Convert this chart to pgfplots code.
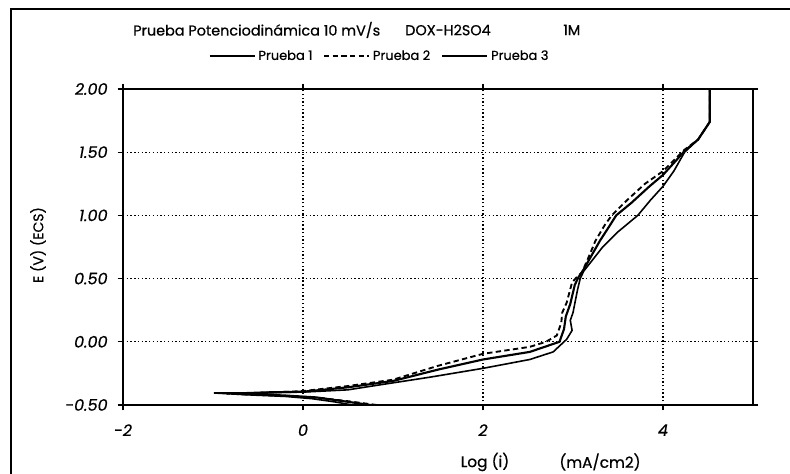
\documentclass[border=0pt]{standalone}
\usepackage{fontspec}
\setmainfont{Poppins}[FakeBold=0.6]
\usepackage{pgfplots}
\pgfplotsset{compat=1.18}

\begin{document}
\begin{tikzpicture}[x=0.75pt,y=0.75pt]
\useasboundingbox (-123,-69) rectangle (667,405);
% outer chart frame
\draw[line width=1.4pt] (-112,-69) -- (-112,396) -- (667,396);

\begin{axis}[
  at={(0,0)}, anchor=south west,
  scale only axis, width=472.5pt, height=237pt,
  xmin=-2, xmax=5, ymin=-0.5, ymax=2,
  xtick={-2,0,2,4}, xticklabels={-2,0,2,4},
  ytick={-0.5,0,0.5,1,1.5,2},
  yticklabels={-0.50,0.00,0.50,1.00,1.50,2.00},
  grid=major,
  major grid style={black, line width=0.9pt, dash pattern=on 1pt off 1.8pt},
  axis line style={line width=1.4pt},
  tick style={black, line width=1pt},
  tick align=outside, major tick length=4pt,
  ticklabel style={font=\fontsize{12}{14}\selectfont\itshape},
  xticklabel style={yshift=-7pt},
  yticklabel style={xshift=-4pt},
  legend columns=3,
  legend style={at={(0.408,1.104)}, anchor=center, draw=none, fill=none,
    font=\fontsize{9.75}{11}\selectfont, inner sep=0pt,
    /tikz/every even column/.append style={column sep=6pt}},
  legend image code/.code={\draw[#1] (0pt,0pt) -- (34pt,0pt);},
]
% Prueba 1
\addplot[black, line width=1.2pt] coordinates {
(0.55,-0.50) (0.35,-0.475) (0.10,-0.45) (-0.20,-0.432) (-0.60,-0.42) (-0.99,-0.405)
(-0.60,-0.405) (0.00,-0.398) (0.50,-0.38) (0.86,-0.34) (1.41,-0.28) (2.00,-0.21)
(2.52,-0.14) (2.78,-0.08) (2.93,0.02) (2.99,0.09) (2.97,0.17) (3.00,0.23)
(3.05,0.41) (3.08,0.50) (3.12,0.56) (3.22,0.65) (3.33,0.75) (3.50,0.87)
(3.72,1.00) (3.86,1.12) (4.00,1.23) (4.12,1.35) (4.24,1.50) (4.39,1.60)
(4.52,1.74) (4.52,2.00)
};
\addlegendentry{Prueba 1}
% Prueba 2
\addplot[black, line width=1.4pt, dash pattern=on 4pt off 2.5pt] coordinates {
(0.82,-0.50) (0.50,-0.47) (0.20,-0.445) (-0.10,-0.43) (-0.50,-0.42) (-0.85,-0.41)
(-0.50,-0.405) (0.00,-0.39) (0.50,-0.35) (1.00,-0.30) (1.50,-0.19) (2.00,-0.095)
(2.52,-0.04) (2.70,0.00) (2.82,0.05) (2.87,0.15) (2.88,0.23) (2.93,0.31)
(2.99,0.47) (3.04,0.51) (3.10,0.55) (3.18,0.68) (3.25,0.80) (3.35,0.92)
(3.43,1.00) (3.60,1.12) (3.80,1.25) (4.00,1.35) (4.14,1.45) (4.24,1.52)
(4.39,1.60) (4.52,1.74) (4.52,2.00)
};
\addlegendentry{Prueba 2}
% Prueba 3
\addplot[black, line width=1.6pt] coordinates {
(0.75,-0.50) (0.45,-0.47) (0.15,-0.44) (-0.20,-0.425) (-0.55,-0.415) (-0.80,-0.41)
(-0.40,-0.40) (0.00,-0.395) (0.50,-0.36) (1.00,-0.31) (1.50,-0.22) (2.00,-0.14)
(2.52,-0.08) (2.85,0.00) (2.90,0.10) (2.92,0.20) (2.97,0.30) (3.02,0.45)
(3.06,0.51) (3.10,0.55) (3.22,0.70) (3.30,0.80) (3.40,0.91) (3.48,1.00)
(3.65,1.10) (3.85,1.23) (4.00,1.32) (4.14,1.43) (4.24,1.51) (4.39,1.60)
(4.52,1.74) (4.52,2.00)
};
\addlegendentry{Prueba 3}
\end{axis}

% titles and axis labels
\begin{scope}[every node/.style={inner sep=0pt}]
\node[anchor=west, font=\fontsize{10.8}{12}\selectfont] at (10,375) {Prueba Potenciodinámica 10 mV/s};
\node[anchor=west, font=\fontsize{10.8}{12}\selectfont] at (282,375) {DOX-H2SO4};
\node[anchor=west, font=\fontsize{10.8}{12}\selectfont] at (440,375) {1M};
\node[rotate=90, font=\fontsize{10.5}{12}\selectfont] at (-85,160) {E (V) (ECS)};
\node[font=\fontsize{11.5}{13}\selectfont] at (362,-57) {Log (i)};
\node[font=\fontsize{11.5}{13}\selectfont] at (477,-57) {(mA/cm2)};
\end{scope}
\end{tikzpicture}
\end{document}
